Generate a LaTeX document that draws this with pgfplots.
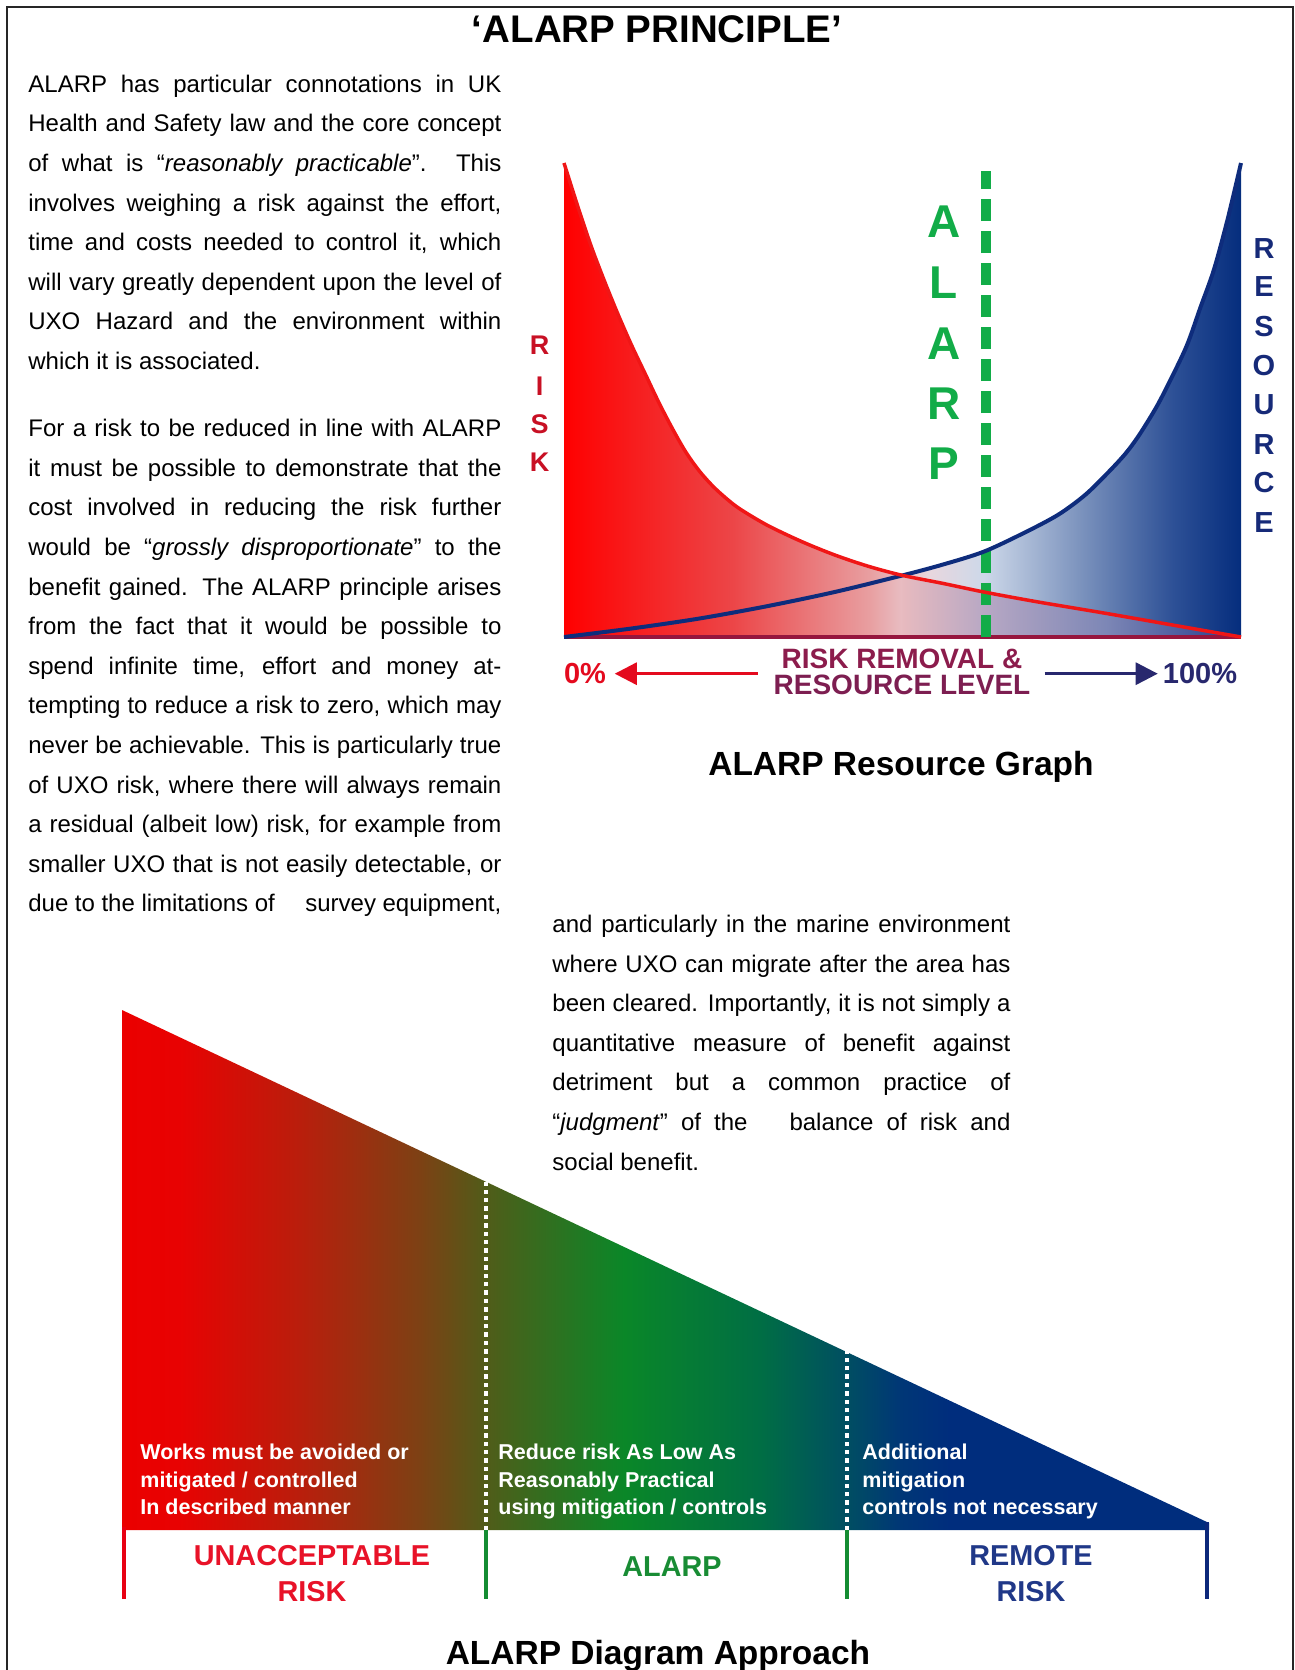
\documentclass[border=0pt]{standalone}
\usepackage{fontspec}
\setmainfont{Liberation Sans}
\usepackage{pgfplots}
\pgfplotsset{compat=1.18}
\usetikzlibrary{arrows.meta}

\newcommand\fsz[1]{\fontsize{#1}{#1}\selectfont}

% text colours
\definecolor{riskred}{RGB}{200,16,36}
\definecolor{alarpgreen}{RGB}{18,172,72}
\definecolor{resnavy}{RGB}{22,42,120}
\definecolor{axmaroon}{RGB}{140,28,76}
\definecolor{curvered}{RGB}{240,22,22}
\definecolor{curveblue}{RGB}{14,44,124}
\definecolor{basemaroon}{RGB}{150,22,62}
\definecolor{arrred}{RGB}{228,10,30}
\definecolor{arrnavy}{RGB}{40,40,110}
\definecolor{unred}{RGB}{232,18,40}
\definecolor{algreen}{RGB}{24,140,52}
\definecolor{renavy}{RGB}{32,56,136}
\definecolor{brred}{RGB}{232,0,18}
\definecolor{brgreen}{RGB}{20,140,50}
\definecolor{brnavy}{RGB}{12,40,122}

% resource graph gradient (x 0..100 -> 25..75bp)
\definecolor{g0}{RGB}{255,0,0}
\definecolor{g1}{RGB}{236,70,72}
\definecolor{g2}{RGB}{232,158,160}
\definecolor{g3}{RGB}{232,215,222}
\definecolor{g4}{RGB}{205,216,233}
\definecolor{g5}{RGB}{125,148,190}
\definecolor{g6}{RGB}{45,80,150}
\definecolor{g7}{RGB}{5,45,125}
\pgfdeclarehorizontalshading{resgrad}{100bp}{color(0bp)=(g0); color(25bp)=(g0);
  color(37.5bp)=(g1); color(47.5bp)=(g2); color(52bp)=(g3); color(56bp)=(g4);
  color(63bp)=(g5); color(70bp)=(g6); color(75bp)=(g7); color(100bp)=(g7)}

% overlap under the risk curve, x 50..100
\definecolor{m0}{RGB}{231,186,191}
\definecolor{m1}{RGB}{184,168,196}
\definecolor{m2}{RGB}{125,135,182}
\definecolor{m3}{RGB}{40,60,140}
\pgfdeclarehorizontalshading{mauve}{100bp}{color(0bp)=(m0); color(25bp)=(m0);
  color(37bp)=(m1); color(55bp)=(m2); color(75bp)=(m3); color(100bp)=(m3)}

% triangle gradient
\definecolor{t0}{RGB}{235,0,0}
\definecolor{t1}{RGB}{232,2,2}
\definecolor{t2}{RGB}{185,30,12}
\definecolor{t3}{RGB}{125,65,20}
\definecolor{t4}{RGB}{80,92,25}
\definecolor{t5}{RGB}{10,135,40}
\definecolor{t6}{RGB}{0,110,68}
\definecolor{t7}{RGB}{0,78,98}
\definecolor{t8}{RGB}{0,55,118}
\definecolor{t9}{RGB}{0,45,125}
\pgfdeclarehorizontalshading{trigrad}{100bp}{color(0bp)=(t0); color(25bp)=(t0);
  color(27.6bp)=(t1); color(33.2bp)=(t2); color(38.7bp)=(t3); color(41.75bp)=(t4);
  color(48.1bp)=(t5); color(54.35bp)=(t6); color(58.35bp)=(t7); color(60.8bp)=(t8);
  color(63.1bp)=(t9); color(100bp)=(t9)}

\begin{document}
\begin{tikzpicture}[x=0.5pt,y=0.5pt]
\path[use as bounding box] (0,0) rectangle (1295,-1670);
\draw[line width=1pt, black!85] (7,-1670) -- (7,-7) -- (1293,-7) -- (1293,-1670);

% title
\node[anchor=base, inner sep=0pt, font=\bfseries\fsz{19.25}] at (657,-42.6) {‘ALARP PRINCIPLE’};

% ---------- resource graph ----------
\begin{axis}[at={(282pt,-318.5pt)}, anchor=origin,
  width=338.5pt, height=237pt, scale only axis, hide axis, clip=false,
  xmin=0, xmax=100, ymin=0, ymax=100]
  % area under the higher of the two curves
  \addplot[draw=none, shade, shading=resgrad, smooth] coordinates {
    (0,100)(2,91)(4,82.5)(6,75)(8,68)(10,61.5)(12,55.5)(14,49.5)(16,44)
    (18,39)(20,35)(22,31.8)(24,29.2)(26,27)(30,23.6)(35,20.2)(40,17.3)
    (45,14.9)(50,13)
    (56,15.3)(62,18)(68,22)(73,25.8)(77,30)(80.5,34.9)(83,38.8)(85,42.7)
    (87.5,48.5)(89.5,54)(92,61.5)(94,69.5)(96,77.5)(98,88)(100,100)
  } \closedcycle;
  % overlap below the risk curve
  \addplot[draw=none, shade, shading=mauve, smooth] coordinates {
    (50,13)(56,11.3)(62,9.5)(70,7.4)(80,5)(90,2.5)(100,0)
  } \closedcycle;
  \addplot[basemaroon, line width=2pt] coordinates {(0,0)(100,0)};
  \addplot[alarpgreen, line width=4.75pt, dash pattern=on 11pt off 5pt]
    coordinates {(62.3,0)(62.3,98.4)};
  % resource
  \addplot[curveblue, line width=2pt, smooth] coordinates {
    (0,0)(10,1.8)(20,3.9)(30,6.5)(40,9.5)(50,13)(56,15.3)(62,18)(68,22)
    (73,25.8)(77,30)(80.5,34.9)(83,38.8)(85,42.7)(87.5,48.5)(89.5,54)
    (92,61.5)(94,69.5)(96,77.5)(98,88)(100,100)
  };
  % risk
  \addplot[curvered, line width=1.75pt, smooth] coordinates {
    (0,100)(2,91)(4,82.5)(6,75)(8,68)(10,61.5)(12,55.5)(14,49.5)(16,44)
    (18,39)(20,35)(22,31.8)(24,29.2)(26,27)(30,23.6)(35,20.2)(40,17.3)
    (45,14.9)(50,13)(56,11.3)(62,9.5)(70,7.4)(80,5)(90,2.5)(100,0)
  };
  % axis arrows
  \addplot[arrred, line width=1.5pt, -{Triangle[length=11pt,width=11pt]}]
    coordinates {(28.6,-7.74)(7.5,-7.74)};
  \addplot[arrnavy, line width=1.5pt, -{Triangle[length=11pt,width=11pt]}]
    coordinates {(71.0,-7.74)(87.7,-7.74)};
\end{axis}

\begin{scope}[every node/.style={anchor=center, inner sep=0pt}]
  \foreach \l/\y in {R/345.4, I/385.9, S/424.3, K/462.6}
    \node[font=\bfseries\fsz{13.5}, text=riskred] at (539.5,-\y) {\l};
  \foreach \l/\y in {A/221.7, L/282.5, A/343.3, R/404, P/463.7}
    \node[font=\bfseries\fsz{23}, text=alarpgreen] at (943.8,-\y) {\l};
  \foreach \l/\y in {R/248.4, E/286.8, S/326.2, O/365.6, U/405, R/444.5, C/482.9, E/522.3}
    \node[font=\bfseries\fsz{14.5}, text=resnavy] at (1264,-\y) {\l};
  \node[font=\bfseries\fsz{14.5}, text=arrred] at (585,-673.7) {0\%};
  \node[font=\bfseries\fsz{14.5}, text=arrnavy] at (1200,-673.7) {100\%};
  \node[font=\bfseries\fsz{14}, text=axmaroon] at (902,-658.5) {RISK REMOVAL \&};
  \node[font=\bfseries\fsz{14}, text=axmaroon!85!arrnavy] at (902,-684.5) {RESOURCE LEVEL};
\end{scope}
\node[anchor=base, inner sep=0pt, font=\bfseries\fsz{16.75}] at (901,-775.3) {ALARP Resource Graph};

% ---------- body text ----------
\begin{scope}[every node/.style={anchor=base west, inner sep=0pt, font=\fsz{12}}]
  \node at (28,-92.3)  {\makebox[236.5pt][s]{ALARP has particular connotations in UK}};
  \node at (28,-131.9) {\makebox[236.5pt][s]{Health and Safety law and the core concept}};
  \node at (28,-171.5) {\makebox[236.5pt][s]{of what is “\textit{reasonably practicable}”. This}};
  \node at (28,-211.1) {\makebox[236.5pt][s]{involves weighing a risk against the effort,}};
  \node at (28,-250.7) {\makebox[236.5pt][s]{time and costs needed to control it, which}};
  \node at (28,-290.3) {\makebox[236.5pt][s]{will vary greatly dependent upon the level of}};
  \node at (28,-329.9) {\makebox[236.5pt][s]{UXO Hazard and the environment within}};
  \node at (28,-369.5) {which it is associated.};

  \node at (28,-436.7) {\makebox[236.5pt][s]{For a risk to be reduced in line with ALARP}};
  \node at (28,-476.3) {\makebox[236.5pt][s]{it must be possible to demonstrate that the}};
  \node at (28,-515.9) {\makebox[236.5pt][s]{cost involved in reducing the risk further}};
  \node at (28,-555.5) {\makebox[236.5pt][s]{would be “\textit{grossly disproportionate}” to the}};
  \node at (28,-595.1) {\makebox[236.5pt][s]{benefit gained. The ALARP principle arises}};
  \node at (28,-634.7) {\makebox[236.5pt][s]{from the fact that it would be possible to}};
  \node at (28,-674.3) {\makebox[236.5pt][s]{spend infinite time, effort and money at-}};
  \node at (28,-713.9) {\makebox[236.5pt][s]{tempting to reduce a risk to zero, which may}};
  \node at (28,-753.5) {\makebox[236.5pt][s]{never be achievable. This is particularly true}};
  \node at (28,-793.1) {\makebox[236.5pt][s]{of UXO risk, where there will always remain}};
  \node at (28,-832.7) {\makebox[236.5pt][s]{a residual (albeit low) risk, for example from}};
  \node at (28,-872.3) {\makebox[236.5pt][s]{smaller UXO that is not easily detectable, or}};
  \node at (28,-911.9) {\makebox[236.5pt][s]{due to the limitations of\hspace{1em} survey equipment,}};

  \node at (552,-932.4)  {\makebox[229pt][s]{and particularly in the marine environment}};
  \node at (552,-972.0)  {\makebox[229pt][s]{where UXO can migrate after the area has}};
  \node at (552,-1011.6) {\makebox[229pt][s]{been cleared. Importantly, it is not simply a}};
  \node at (552,-1051.2) {\makebox[229pt][s]{quantitative measure of benefit against}};
  \node at (552,-1090.8) {\makebox[229pt][s]{detriment but a common practice of}};
  \node at (552,-1130.4) {\makebox[229pt][s]{“\textit{judgment}” of the\hspace{1.2em} balance of risk and}};
  \node at (552,-1170.0) {social benefit.};
\end{scope}

% ---------- diagram approach ----------
\begin{axis}[at={(61pt,-765pt)}, anchor=origin,
  width=543.5pt, height=260pt, scale only axis, hide axis, clip=false,
  xmin=0, xmax=100, ymin=0, ymax=100]
  \addplot[draw=none, shade, shading=trigrad] coordinates {(0,100)(100,1.35)} \closedcycle;
  \addplot[white, line width=2pt, dash pattern=on 2.2pt off 2pt] coordinates {(33.5,0)(33.5,67)};
  \addplot[white, line width=2pt, dash pattern=on 2.2pt off 2pt] coordinates {(66.7,0)(66.7,34.4)};
  \addplot[brred, line width=2pt] coordinates {(0.18,0.5)(0.18,-13.3)};
  \addplot[brgreen, line width=2pt] coordinates {(33.5,0)(33.5,-13.3)};
  \addplot[brgreen, line width=2pt] coordinates {(66.7,0)(66.7,-13.3)};
  \addplot[brnavy, line width=2pt] coordinates {(99.85,1.5)(99.85,-13.3)};
\end{axis}

\begin{scope}[every node/.style={anchor=base west, inner sep=0pt, font=\bfseries\fsz{10.75}, text=white}]
  \node at (140,-1459) {Works must be avoided or};
  \node at (140,-1487) {mitigated / controlled};
  \node at (140,-1514) {In described manner};
  \node at (498,-1459) {Reduce risk As Low As};
  \node at (498,-1487) {Reasonably Practical};
  \node at (498,-1514) {using mitigation / controls};
  \node at (862,-1459) {Additional};
  \node at (862,-1487) {mitigation};
  \node at (862,-1514) {controls not necessary};
\end{scope}
\begin{scope}[every node/.style={anchor=center, inner sep=0pt, font=\bfseries\fsz{14.4}}]
  \node[text=unred] at (312,-1556) {UNACCEPTABLE};
  \node[text=unred] at (312,-1591.5) {RISK};
  \node[text=algreen] at (672,-1567) {ALARP};
  \node[text=renavy] at (1031,-1556) {REMOTE};
  \node[text=renavy] at (1031,-1591.5) {RISK};
\end{scope}
\node[anchor=base, inner sep=0pt, font=\bfseries\fsz{16.75}] at (658,-1664) {ALARP Diagram Approach};
\end{tikzpicture}
\end{document}
